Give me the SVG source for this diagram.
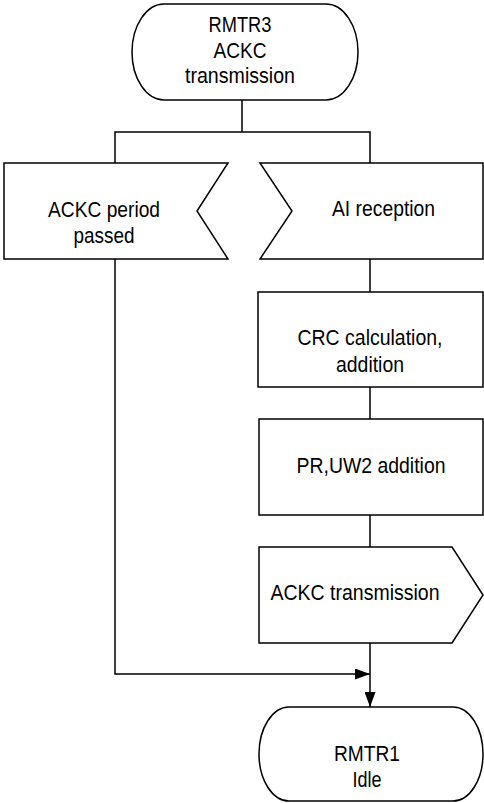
<svg xmlns="http://www.w3.org/2000/svg" width="484" height="803" viewBox="0 0 484 803">
<style>
.s{fill:#fff;stroke:#000;stroke-width:1.5}
.c{fill:none;stroke:#000;stroke-width:1.5}
text{font-family:"Liberation Sans Narrow","Liberation Sans",Arial,sans-serif;font-size:22px;fill:#000;text-anchor:middle}
</style>
<defs>
<marker id="ah" markerWidth="15" markerHeight="11" refX="15" refY="5.5" orient="auto" markerUnits="userSpaceOnUse">
<path d="M0,0 L15,5.5 L0,11 Z" fill="#000"/>
</marker>
</defs>
<g id="connectors">
<path class="c" d="M242,100 V132"/>
<path class="c" d="M115,163 V132 H370 V163"/>
<path class="c" d="M370,259 V292"/>
<path class="c" d="M370,387 V419"/>
<path class="c" d="M370,515 V547"/>
<path class="c" d="M370,643 V707" marker-end="url(#ah)"/>
<path class="c" d="M115,259 V674 H370" marker-end="url(#ah)"/>
</g>
<g id="start">
<rect class="s" x="132" y="4" width="226" height="96" rx="32" ry="48"/>
<text x="240" y="32" textLength="63" lengthAdjust="spacingAndGlyphs">RMTR3</text>
<text x="240" y="58" textLength="53" lengthAdjust="spacingAndGlyphs">ACKC</text>
<text x="240" y="83" textLength="110" lengthAdjust="spacingAndGlyphs">transmission</text>
</g>
<g id="ackc_period">
<polygon class="s" points="4,163 228,163 197,211 228,259 4,259"/>
<text x="104" y="217" textLength="112" lengthAdjust="spacingAndGlyphs">ACKC period</text>
<text x="104" y="243" textLength="61" lengthAdjust="spacingAndGlyphs">passed</text>
</g>
<g id="ai_reception">
<polygon class="s" points="260,163 483,163 483,259 260,259 292,211"/>
<text x="383.5" y="216" textLength="103" lengthAdjust="spacingAndGlyphs">AI reception</text>
</g>
<g id="crc">
<rect class="s" x="258" y="292" width="225" height="95"/>
<text x="370" y="345" textLength="145" lengthAdjust="spacingAndGlyphs">CRC calculation,</text>
<text x="370" y="372" textLength="68" lengthAdjust="spacingAndGlyphs">addition</text>
</g>
<g id="pr_uw2">
<rect class="s" x="259" y="419" width="224" height="96"/>
<text x="371" y="473" textLength="149" lengthAdjust="spacingAndGlyphs">PR,UW2 addition</text>
</g>
<g id="ackc_tx">
<polygon class="s" points="259,547 452,547 483,595 452,643 259,643"/>
<text x="355" y="600" textLength="169" lengthAdjust="spacingAndGlyphs">ACKC transmission</text>
</g>
<g id="idle">
<rect class="s" x="259" y="707" width="224" height="94" rx="30" ry="47"/>
<text x="367" y="761" textLength="66" lengthAdjust="spacingAndGlyphs">RMTR1</text>
<text x="367" y="787" textLength="29" lengthAdjust="spacingAndGlyphs">Idle</text>
</g>
</svg>
